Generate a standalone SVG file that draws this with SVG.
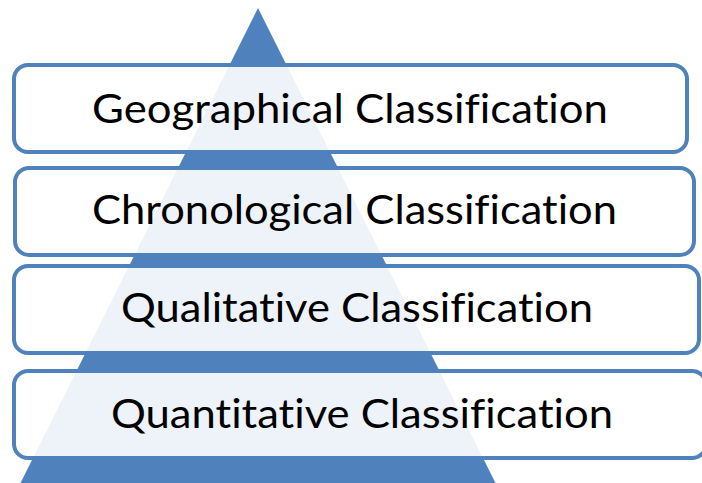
<svg xmlns="http://www.w3.org/2000/svg" width="702" height="483" viewBox="0 0 702 483">
<style>
.box{fill:#ffffff;fill-opacity:0.9;stroke:#4F81BD;stroke-width:4}
.lbl{font-family:Lato,"Open Sans","Liberation Sans",sans-serif;font-size:40px;fill:#000000;font-variant-ligatures:none;font-feature-settings:"liga" 0,"clig" 0}
</style>
<rect width="702" height="483" fill="#ffffff"/>
<g id="pyramid"><polygon points="258,8 496,484 20,484" fill="#4F81BD"/></g>
<g id="geographical">
<rect class="box" x="14" y="65" width="673" height="87" rx="14"/>
<text class="lbl" x="92" y="123" textLength="516" lengthAdjust="spacingAndGlyphs">Geographical Classification</text>
</g>
<g id="chronological">
<rect class="box" x="15" y="168" width="679" height="87" rx="14"/>
<text class="lbl" x="92" y="224" textLength="525" lengthAdjust="spacingAndGlyphs">Chronological Classification</text>
</g>
<g id="qualitative">
<rect class="box" x="14" y="266" width="685" height="87" rx="14"/>
<text class="lbl" x="121" y="322" textLength="472" lengthAdjust="spacingAndGlyphs">Qualitative Classification</text>
</g>
<g id="quantitative">
<rect class="box" x="14" y="371" width="692" height="87" rx="14"/>
<text class="lbl" x="111" y="428" textLength="502" lengthAdjust="spacingAndGlyphs">Quantitative Classification</text>
</g>
</svg>
